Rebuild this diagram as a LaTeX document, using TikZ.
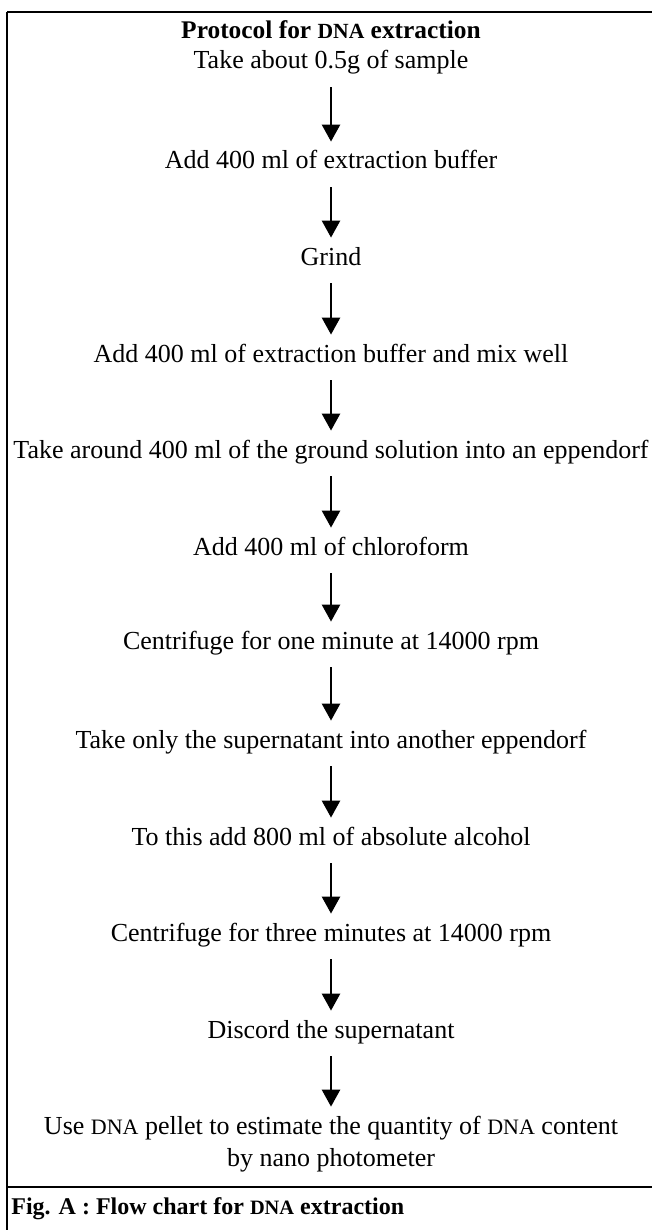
\documentclass[tikz,border=0pt]{standalone}
\usepackage{fontspec}
\setmainfont{Liberation Serif}
\usetikzlibrary{arrows.meta}
\newcommand{\dna}[1][11pt]{{\fontsize{#1}{#1}\selectfont DNA}}

\begin{document}
\begin{tikzpicture}[x=0.5pt,y=-0.5pt,
    stage/.style={inner sep=0pt, font=\fontsize{13pt}{16pt}\selectfont, text height=9pt, text depth=3pt},
    arr/.style={line width=1.3pt, -{Triangle[width=9pt,length=8.5pt]}, shorten <=6pt, shorten >=4.5pt}]
    \useasboundingbox (0,0) rectangle (652,1230);

    % frame
    \draw[line width=0.7pt] (652,12) -- (7,12);
    \draw[line width=0.6pt] (7,12) -- (7,1230);
    \draw[line width=1.1pt] (7,1187) -- (652,1187);

    \node[inner sep=0pt, font=\fontsize{12.7pt}{14pt}\selectfont\bfseries] (title) at (331,30) {Protocol for \dna[10.8pt]{} extraction};

    \node[stage] (s1) at (331,63) {Take about 0.5g of sample};
    \node[stage] (s2) at (331,163) {Add 400 ml of extraction buffer};
    \node[stage] (s3) at (331,259) {Grind};
    \node[stage] (s4) at (331,356) {Add 400 ml of extraction buffer and mix well};
    \node[stage] (s5) at (331,452) {Take around 400 ml of the ground solution into an eppendorf};
    \node[stage] (s6) at (331,549) {Add 400 ml of chloroform};
    \node[stage] (s7) at (331,643) {Centrifuge for one minute at 14000 rpm};
    \node[stage] (s8) at (331,742) {Take only the supernatant into another eppendorf};
    \node[stage] (s9) at (331,839) {To this add 800 ml of absolute alcohol};
    \node[stage] (s10) at (331,935) {Centrifuge for three minutes at 14000 rpm};
    \node[stage] (s11) at (331,1032) {Discord the supernatant};
    \node[inner sep=0pt, align=center, font=\fontsize{13pt}{16pt}\selectfont] (s12) at (331,1144)
        {Use \dna{} pellet to estimate the quantity of \dna{} content\\by nano photometer};

    \node[anchor=west, inner sep=0pt, font=\fontsize{12pt}{14pt}\selectfont\bfseries] (cap) at (11,1209) {Fig. A : Flow chart for \dna[10.2pt]{} extraction};

    \draw[arr] (s1) -- (s2);
    \draw[arr] (s2) -- (s3);
    \draw[arr] (s3) -- (s4);
    \draw[arr] (s4) -- (s5);
    \draw[arr] (s5) -- (s6);
    \draw[arr] (s6) -- (s7);
    \draw[arr] (s7) -- (s8);
    \draw[arr] (s8) -- (s9);
    \draw[arr] (s9) -- (s10);
    \draw[arr] (s10) -- (s11);
    \draw[arr] (s11) -- (s12);

  \end{tikzpicture}
\end{document}
